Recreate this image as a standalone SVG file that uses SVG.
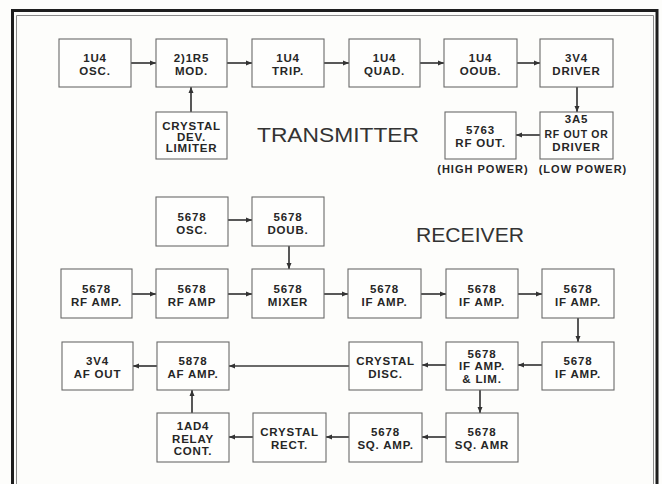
<svg xmlns="http://www.w3.org/2000/svg" width="662" height="484" viewBox="0 0 662 484">
<defs>
<marker id="ah" markerUnits="userSpaceOnUse" markerWidth="7" markerHeight="6" refX="6" refY="3" orient="auto">
<path d="M0,0.5 L6,3 L0,5.5 z" fill="#333"/>
</marker>
<style>
.box rect{fill:#fefefd;stroke:#6a6a6a;stroke-width:1.1}
.box text{font-family:"Liberation Sans",Arial,sans-serif;font-weight:bold;font-size:11.5px;letter-spacing:0.8px;fill:#262626;text-anchor:middle}
#connectors line{stroke:#3a3a3a;stroke-width:1.7;marker-end:url(#ah)}
.title{font-family:"Liberation Sans",Arial,sans-serif;font-size:21px;fill:#333}
.note{font-family:"Liberation Sans",Arial,sans-serif;font-weight:bold;font-size:11px;letter-spacing:1px;fill:#262626;text-anchor:middle}
.frame{fill:none;stroke:#1e1e1e}
.inner{fill:none;stroke:#8a8a8a;stroke-width:1}
</style>
</defs>
<rect width="662" height="484" fill="#fdfdfb"/>
<g id="frame">
<path class="frame" d="M12.5,484 V10.5 H657 V484" stroke-width="3"/>
<path class="inner" d="M16.5,484 V15.5 H653.5 V484"/>
</g>
<g id="connectors">
<line x1="131" y1="63" x2="156" y2="63"/>
<line x1="227" y1="63" x2="252" y2="63"/>
<line x1="324" y1="63" x2="349" y2="63"/>
<line x1="420" y1="63" x2="444" y2="63"/>
<line x1="517" y1="63" x2="540" y2="63"/>
<line x1="577" y1="87" x2="577" y2="112"/>
<line x1="540" y1="135" x2="516" y2="135"/>
<line x1="191" y1="112" x2="191" y2="87"/>
<line x1="228" y1="220" x2="252" y2="220"/>
<line x1="289" y1="246" x2="289" y2="269"/>
<line x1="132" y1="294" x2="156" y2="294"/>
<line x1="228" y1="294" x2="252" y2="294"/>
<line x1="324" y1="294" x2="348" y2="294"/>
<line x1="421" y1="294" x2="446" y2="294"/>
<line x1="518" y1="294" x2="542" y2="294"/>
<line x1="578" y1="318" x2="578" y2="342"/>
<line x1="542" y1="365" x2="518" y2="365"/>
<line x1="446" y1="365" x2="422" y2="365"/>
<line x1="349" y1="366" x2="229" y2="366"/>
<line x1="157" y1="366" x2="133" y2="366"/>
<line x1="480" y1="389" x2="480" y2="413"/>
<line x1="446" y1="437" x2="422" y2="437"/>
<line x1="349" y1="437" x2="326" y2="437"/>
<line x1="253" y1="437" x2="229" y2="437"/>
<line x1="192" y1="413" x2="192" y2="390"/>
</g>
<g id="t-osc" class="box"><rect x="59" y="39" width="72" height="48"/><text x="95" y="62">1U4</text><text x="95" y="75">OSC.</text></g>
<g id="t-mod" class="box"><rect x="156" y="39" width="71" height="48"/><text x="191.5" y="62">2)1R5</text><text x="191.5" y="75">MOD.</text></g>
<g id="t-trip" class="box"><rect x="252" y="39" width="72" height="48"/><text x="288" y="62">1U4</text><text x="288" y="75">TRIP.</text></g>
<g id="t-quad" class="box"><rect x="349" y="39" width="71" height="48"/><text x="384.5" y="62">1U4</text><text x="384.5" y="75">QUAD.</text></g>
<g id="t-doub" class="box"><rect x="444" y="39" width="73" height="48"/><text x="480.5" y="62">1U4</text><text x="480.5" y="75">OOUB.</text></g>
<g id="t-driver" class="box"><rect x="540" y="39" width="73" height="48"/><text x="576.5" y="62">3V4</text><text x="576.5" y="75">DRIVER</text></g>
<g id="t-limiter" class="box"><rect x="156" y="112" width="71" height="47"/><text x="191.5" y="130">CRYSTAL</text><text x="191.5" y="141">DEV.</text><text x="191.5" y="152">LIMITER</text></g>
<g id="t-rfout" class="box"><rect x="445" y="112" width="71" height="47"/><text x="480.5" y="134">5763</text><text x="480.5" y="147">RF OUT.</text></g>
<g id="t-3a5" class="box"><rect x="540" y="112" width="73" height="47"/><text x="576.5" y="123">3A5</text><text x="576.5" y="137.5" textLength="64" lengthAdjust="spacingAndGlyphs">RF OUT OR</text><text x="576.5" y="151">DRIVER</text></g>
<text class="note" x="483" y="172.5">(HIGH POWER)</text>
<text class="note" x="583" y="172.5">(LOW POWER)</text>
<text class="title" x="257" y="142" textLength="162" lengthAdjust="spacingAndGlyphs">TRANSMITTER</text>
<text class="title" x="416" y="242" textLength="108" lengthAdjust="spacingAndGlyphs">RECEIVER</text>
<g id="r-osc" class="box"><rect x="156" y="197" width="72" height="49"/><text x="192" y="221">5678</text><text x="192" y="234">OSC.</text></g>
<g id="r-doub" class="box"><rect x="252" y="197" width="72" height="49"/><text x="288" y="221">5678</text><text x="288" y="234">DOUB.</text></g>
<g id="r-rf1" class="box"><rect x="61" y="269" width="71" height="49"/><text x="96.5" y="293">5678</text><text x="96.5" y="306">RF AMP.</text></g>
<g id="r-rf2" class="box"><rect x="156" y="269" width="72" height="49"/><text x="192" y="293">5678</text><text x="192" y="306">RF AMP</text></g>
<g id="r-mixer" class="box"><rect x="252" y="269" width="72" height="49"/><text x="288" y="293">5678</text><text x="288" y="306">MIXER</text></g>
<g id="r-if1" class="box"><rect x="348" y="269" width="73" height="49"/><text x="384.5" y="293">5678</text><text x="384.5" y="306">IF AMP.</text></g>
<g id="r-if2" class="box"><rect x="446" y="269" width="72" height="49"/><text x="482" y="293">5678</text><text x="482" y="306">IF AMP.</text></g>
<g id="r-if3" class="box"><rect x="542" y="269" width="72" height="49"/><text x="578" y="293">5678</text><text x="578" y="306">IF AMP.</text></g>
<g id="r-afout" class="box"><rect x="62" y="342" width="71" height="48"/><text x="97.5" y="365">3V4</text><text x="97.5" y="378">AF OUT</text></g>
<g id="r-afamp" class="box"><rect x="157" y="342" width="72" height="48"/><text x="193" y="365">5878</text><text x="193" y="378">AF AMP.</text></g>
<g id="r-disc" class="box"><rect x="349" y="342" width="73" height="48"/><text x="385.5" y="365">CRYSTAL</text><text x="385.5" y="378">DISC.</text></g>
<g id="r-iflim" class="box"><rect x="446" y="342" width="72" height="48"/><text x="482" y="357.5">5678</text><text x="482" y="370">IF AMP.</text><text x="482" y="383">&amp; LIM.</text></g>
<g id="r-if4" class="box"><rect x="542" y="342" width="72" height="48"/><text x="578" y="365">5678</text><text x="578" y="378">IF AMP.</text></g>
<g id="r-relay" class="box"><rect x="157" y="413" width="72" height="49"/><text x="193" y="430">1AD4</text><text x="193" y="442.5">RELAY</text><text x="193" y="455">CONT.</text></g>
<g id="r-rect" class="box"><rect x="253" y="413" width="73" height="49"/><text x="289.5" y="436">CRYSTAL</text><text x="289.5" y="449">RECT.</text></g>
<g id="r-sqamp" class="box"><rect x="349" y="413" width="73" height="49"/><text x="385.5" y="436">5678</text><text x="385.5" y="449">SQ. AMP.</text></g>
<g id="r-sqamr" class="box"><rect x="446" y="413" width="72" height="49"/><text x="482" y="436">5678</text><text x="482" y="449">SQ. AMR</text></g>
</svg>
